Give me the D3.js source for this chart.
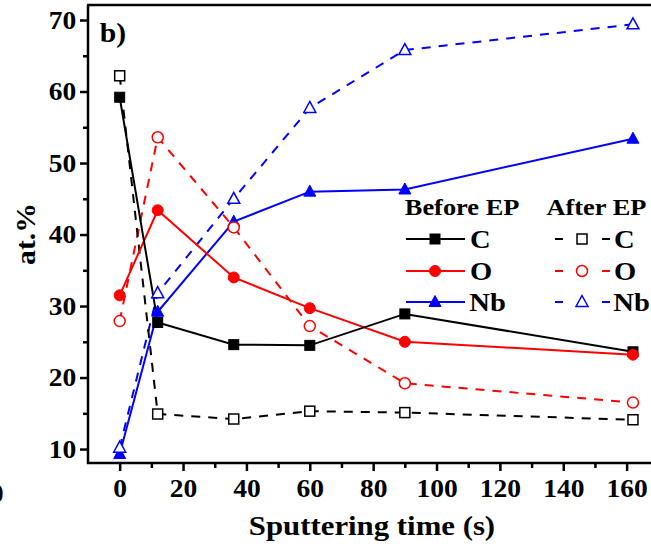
<!doctype html>
<html lang="en">
<head>
<meta charset="utf-8">
<title>Sputtering time vs at.%</title>
<script src="https://cdn.jsdelivr.net/npm/d3@7"></script>
<style>
  body { margin: 0; background: #fff; }
  svg { display: block; font-family: "Liberation Serif", "Times New Roman", serif; font-weight: bold; }
  .wide { transform-box: fill-box; transform-origin: center; transform: scaleX(1.1); }
</style>
</head>
<body>
<svg id="chart" width="651" height="546"></svg>
<script>
// sputtering times (s)
var times = [0, 12, 36, 60, 90, 162];

// before EP
var beforeC  = [59.2, 27.7, 24.6, 24.5, 28.9, 23.6];
var beforeO  = [31.5, 43.4, 34.0, 29.7, 25.0, 23.2];
var beforeNb = [9.3, 29.2, 41.8, 46.0, 46.3, 53.4];

// after EP
var afterC  = [62.2, 14.9, 14.2, 15.3, 15.1, 14.1];
var afterO  = [27.9, 53.6, 41.0, 27.2, 19.2, 16.5];
var afterNb = [10.2, 31.8, 45.0, 57.7, 65.8, 69.4];

var xTicks = [0, 20, 40, 60, 80, 100, 120, 140, 160];
var yTicks = [10, 20, 30, 40, 50, 60, 70];
var elements = ["C", "O", "Nb"];

var svg = d3.select("#chart");
var mLeft = 88, mTop = 5, mBottom = 463, mRight = 690;

var x = d3.scaleLinear().domain([-10, 180]).range([mLeft, mRight]);
var y = d3.scaleLinear().domain([8.05, 72.1]).range([mBottom, mTop]);

var colors = { C: "#000000", O: "#ff0000", Nb: "#0000ff" };
var series = [
  { name: "C",  vals: beforeC,  after: false, shape: "square" },
  { name: "O",  vals: beforeO,  after: false, shape: "circle" },
  { name: "Nb", vals: beforeNb, after: false, shape: "triangle" },
  { name: "C",  vals: afterC,   after: true,  shape: "square" },
  { name: "O",  vals: afterO,   after: true,  shape: "circle" },
  { name: "Nb", vals: afterNb,  after: true,  shape: "triangle" }
];

function marker(g, shape, cx, cy, col, open) {
  var fill = open ? "#fff" : col;
  var sw = open ? 1.5 : 1;
  if (shape === "square") {
    g.append("rect").attr("x", cx - 5).attr("y", cy - 5).attr("width", 10).attr("height", 10)
      .attr("fill", fill).attr("stroke", col).attr("stroke-width", sw);
  } else if (shape === "circle") {
    g.append("circle").attr("cx", cx).attr("cy", cy).attr("r", 5.5)
      .attr("fill", fill).attr("stroke", col).attr("stroke-width", sw);
  } else {
    g.append("path").attr("d", "M" + cx + "," + (cy - 6.5) + "L" + (cx + 6) + "," + (cy + 4.5) + "L" + (cx - 6) + "," + (cy + 4.5) + "Z")
      .attr("fill", fill).attr("stroke", col).attr("stroke-width", sw);
  }
}

var plot = svg.append("g");
var line = d3.line().x(function(d, i) { return x(times[i]); }).y(function(d) { return y(d); });

// after EP first (dashed), then before EP on top
series.slice().reverse().forEach(function(s) {
  plot.append("path").datum(s.vals)
    .attr("d", line)
    .attr("fill", "none")
    .attr("stroke", colors[s.name])
    .attr("stroke-width", 2)
    .attr("stroke-dasharray", s.after ? "9,8" : null);
});
series.forEach(function(s) {
  s.vals.forEach(function(v, i) {
    marker(plot, s.shape, x(times[i]), y(v), colors[s.name], s.after);
  });
});

// frame
svg.append("line").attr("x1", mLeft).attr("x2", mLeft).attr("y1", mTop).attr("y2", mBottom + 1)
  .attr("stroke", "#000").attr("stroke-width", 2.5);
svg.append("line").attr("x1", mLeft - 1).attr("x2", 651).attr("y1", mBottom).attr("y2", mBottom)
  .attr("stroke", "#000").attr("stroke-width", 2.5);
svg.append("line").attr("x1", mLeft - 1).attr("x2", 651).attr("y1", mTop).attr("y2", mTop)
  .attr("stroke", "#000").attr("stroke-width", 2.5);

// y axis
svg.append("g").attr("transform", "translate(" + mLeft + ",0)")
  .call(d3.axisLeft(y).tickValues(yTicks).tickSize(8).tickPadding(5).tickFormat(d3.format("d")));
svg.append("g").attr("transform", "translate(" + mLeft + ",0)")
  .call(d3.axisLeft(y).tickValues([15, 25, 35, 45, 55, 65]).tickSize(5).tickFormat(""));

// x axis
svg.append("g").attr("transform", "translate(0," + mBottom + ")")
  .call(d3.axisBottom(x).tickValues(xTicks).tickSize(8).tickPadding(8).tickFormat(d3.format("d")));
svg.append("g").attr("transform", "translate(0," + mBottom + ")")
  .call(d3.axisBottom(x).tickValues([10, 30, 50, 70, 90, 110, 130, 150, 170]).tickSize(5).tickFormat(""));

svg.selectAll(".domain").remove();
svg.selectAll(".tick line").attr("stroke", "#000").attr("stroke-width", 2.5);
svg.selectAll(".tick text").attr("fill", "#000").attr("class", "wide")
  .style("font-size", "25px").style("font-family", "Liberation Serif").style("font-weight", "bold");

// labels
svg.append("text").attr("class", "wide").attr("x", 372).attr("y", 535).attr("text-anchor", "middle")
  .style("font-size", "28px").text("Sputtering time (s)");
svg.append("text").attr("transform", "translate(35,234) rotate(-90) scale(1.1,1)").attr("text-anchor", "middle")
  .style("font-size", "27px").text("at.%");
svg.append("text").attr("class", "wide").attr("x", 101).attr("y", 42).style("font-size", "27px").text("b)");
// partial glyph cut off at the left edge, as in the original figure
svg.append("text").attr("x", -9).attr("y", 502).style("font-size", "25px").text("0");

// legend
var lg = svg.append("g");
lg.append("text").attr("class", "wide").attr("x", 410).attr("y", 215).style("font-size", "24px").text("Before EP");
lg.append("text").attr("class", "wide").attr("x", 551).attr("y", 215).style("font-size", "24px").text("After EP");
var rowY = [239, 271, 302];
elements.forEach(function(el, i) {
  var cy = rowY[i], col = colors[el];
  var shape = series[i].shape;
  lg.append("line").attr("x1", 406).attr("x2", 465).attr("y1", cy).attr("y2", cy)
    .attr("stroke", col).attr("stroke-width", 2);
  marker(lg, shape, 435, cy, col, false);
  lg.append("text").attr("class", "wide").attr("x", 471).attr("y", cy + 9).style("font-size", "26px").text(el);

  lg.append("line").attr("x1", 555).attr("x2", 563).attr("y1", cy).attr("y2", cy)
    .attr("stroke", col).attr("stroke-width", 2);
  lg.append("line").attr("x1", 602).attr("x2", 610).attr("y1", cy).attr("y2", cy)
    .attr("stroke", col).attr("stroke-width", 2);
  marker(lg, shape, 582, cy, col, true);
  lg.append("text").attr("class", "wide").attr("x", 615).attr("y", cy + 9).style("font-size", "26px").text(el);
});
</script>
</body>
</html>
